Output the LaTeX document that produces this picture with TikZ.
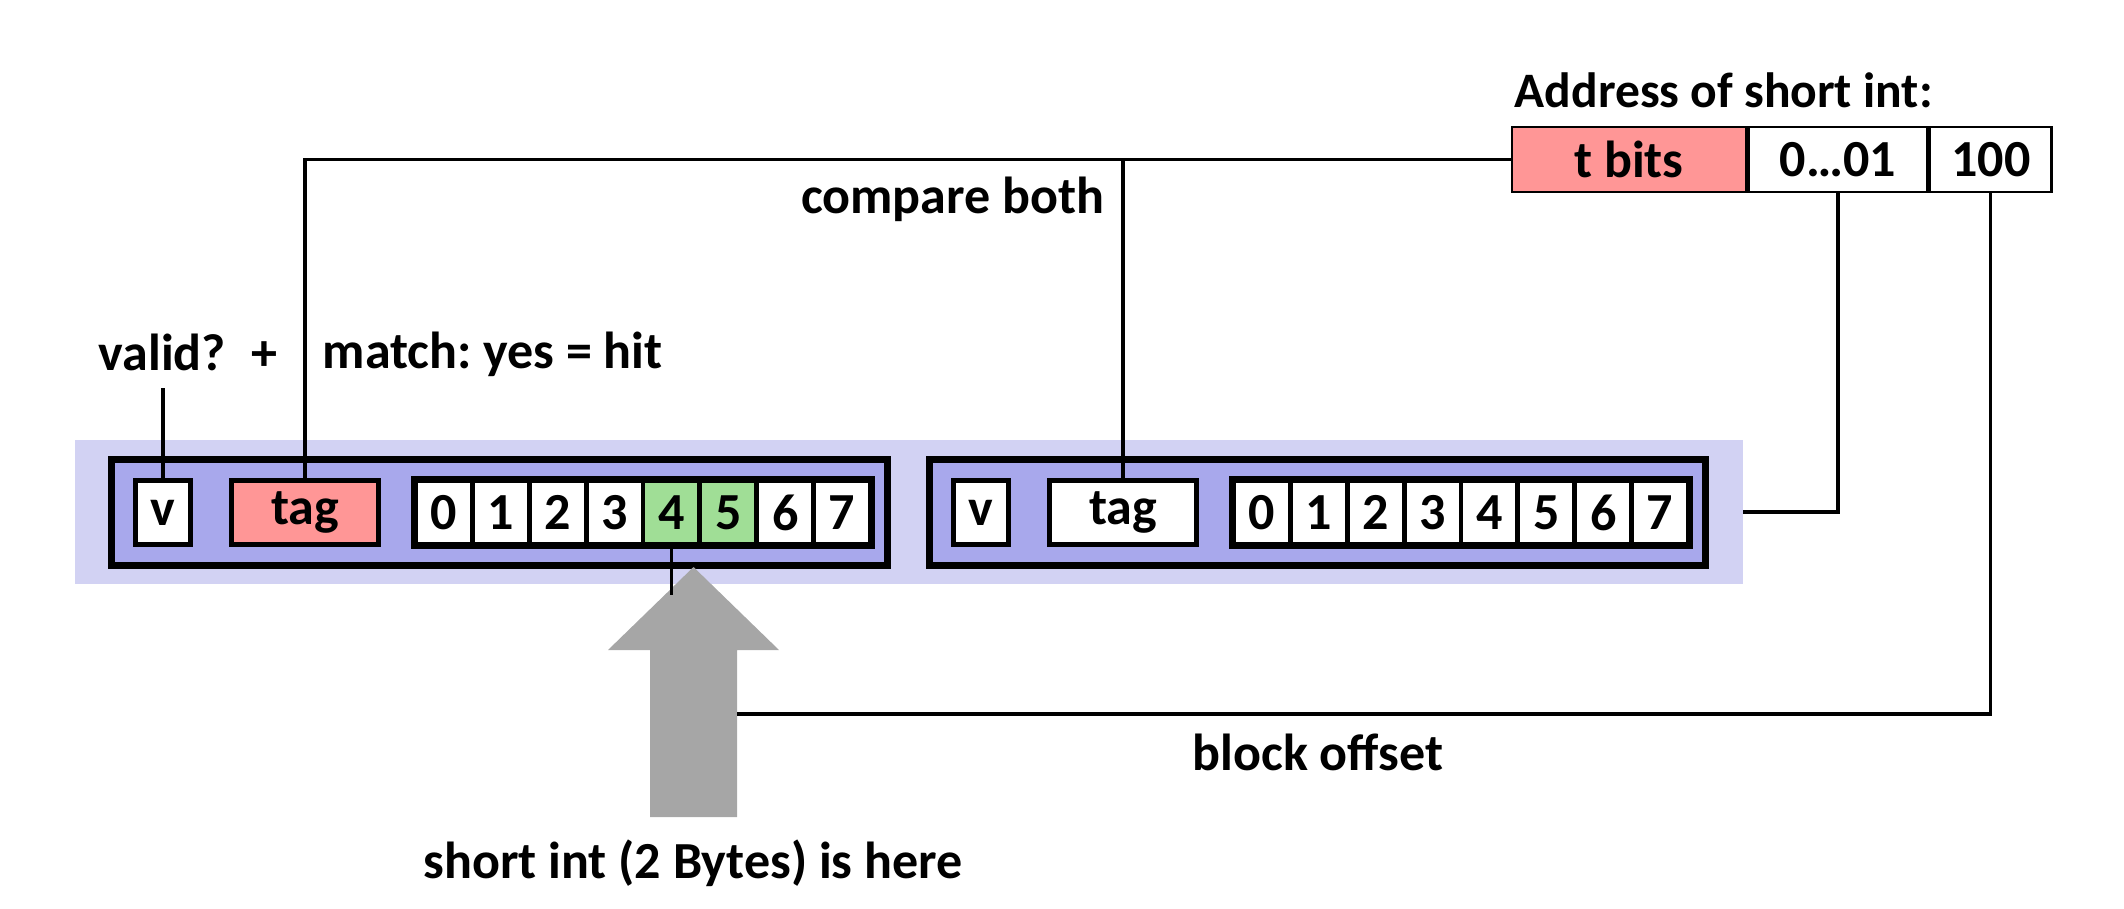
\documentclass[tikz,border=0pt]{standalone}
\usepackage{fontspec}
\setmainfont{Carlito}
\frenchspacing
\usetikzlibrary{positioning, calc}
\definecolor{bandblue}{RGB}{210,210,243}
\definecolor{setblue}{RGB}{168,168,236}
\definecolor{tagred}{RGB}{255,150,150}
\definecolor{hitgreen}{RGB}{160,222,150}
\definecolor{arrowgray}{RGB}{166,166,166}
\tikzset{
  txt/.style={font=\fontsize{14.8}{17}\selectfont\bfseries, inner sep=0pt},
  band/.style={rectangle, fill=bandblue, inner sep=0pt},
  setbox/.style={rectangle, draw=black, fill=setblue, line width=2pt, inner sep=0pt, minimum width=77.6mm, minimum height=10.6mm},
  field/.style={rectangle, draw=black, fill=white, line width=1.4pt, inner sep=0pt, minimum height=6.4mm, txt},
  cell/.style={field, minimum width=5.6875mm},
  addr/.style={rectangle, draw=black, fill=white, line width=0.8pt, inner sep=0pt, minimum height=6.5mm, txt},
  wire/.style={line width=0.9pt, color=black}
}

\begin{document}
\begin{tikzpicture}[x=0.01cm, y=-0.01cm]
  \useasboundingbox (0,0) rectangle (2124,908);

  % Cache line background
  \node[band, minimum width=166.7mm, minimum height=14.4mm] (band) at (908.5,512) {};

  % Set a (hit)
  \node[setbox] (seta) at (499.5,512.5) {};
  \node[field, minimum width=5.5mm] (va) at (163,512.5) {v};
  \node[field, fill=tagred, minimum width=14.7mm] (taga) at (305,512.5) {tag};
  \foreach \i in {0,...,7}{
    \ifnum\i>3 \ifnum\i<6 \def\cf{hitgreen}\else\def\cf{white}\fi\else\def\cf{white}\fi
    \node[cell, fill=\cf] (ca\i) at (415.5+56.875*\i+28.4375,512.5) {\i};
  }
  \draw[line width=1.4pt] (ca0.north west) rectangle (ca7.south east);

  % Set b
  \node[setbox] (setb) at (1317.5,512.5) {};
  \node[field, minimum width=5.5mm] (vb) at (981,512.5) {v};
  \node[field, minimum width=14.7mm] (tagb) at (1123,512.5) {tag};
  \foreach \i in {0,...,7}
    \node[cell] (cb\i) at (1233.5+56.875*\i+28.4375,512.5) {\i};
  \draw[line width=1.4pt] (cb0.north west) rectangle (cb7.south east);

  % Address
  \node[txt, font=\fontsize{14.1}{17}\selectfont\bfseries, anchor=base west] (addrlbl) at (1514,107) {Address of short int:};
  \node[addr, fill=tagred, minimum width=23.4mm] (tbits) at (1629,159.5) {t bits};
  \node[addr, minimum width=17.8mm, right=0pt of tbits] (setidx) {0\dots01};
  \node[addr, minimum width=12.2mm, right=0pt of setidx] (offs) {100};

  % Gray arrow
  \draw[fill=arrowgray, draw=none] (693.5,567) -- (779,650) -- (737,650) -- (737,817)
    -- (650,817) -- (650,650) -- (608,650) -- cycle;
  \coordinate (shaft) at (737,714);

  % Wires
  \draw[wire] (tbits.west) -| (taga.north);
  \draw[wire] (tagb.north) -- (tagb.north |- tbits.west);
  \draw[wire] (va.north) -- ++(0,-90);
  \draw[wire] (setidx.south) |- (band.east);
  \draw[wire] (offs.south) |- (shaft);
  \draw[wire] (ca4.south) -- ++(0,48);

  % Labels
  \node[txt, anchor=base east] (cmp) at (1105,213) {compare both};
  \node[txt, anchor=base west] (valid) at (98,370) {valid?\enspace+};
  \node[txt, anchor=base west] (match) at (322,368) {match: yes = hit};
  \node[txt, anchor=base west] (blk) at (1192,770) {block offset};
  \node[txt, anchor=base] (here) at (693,878) {short int (2 Bytes) is here};
\end{tikzpicture}
\end{document}
